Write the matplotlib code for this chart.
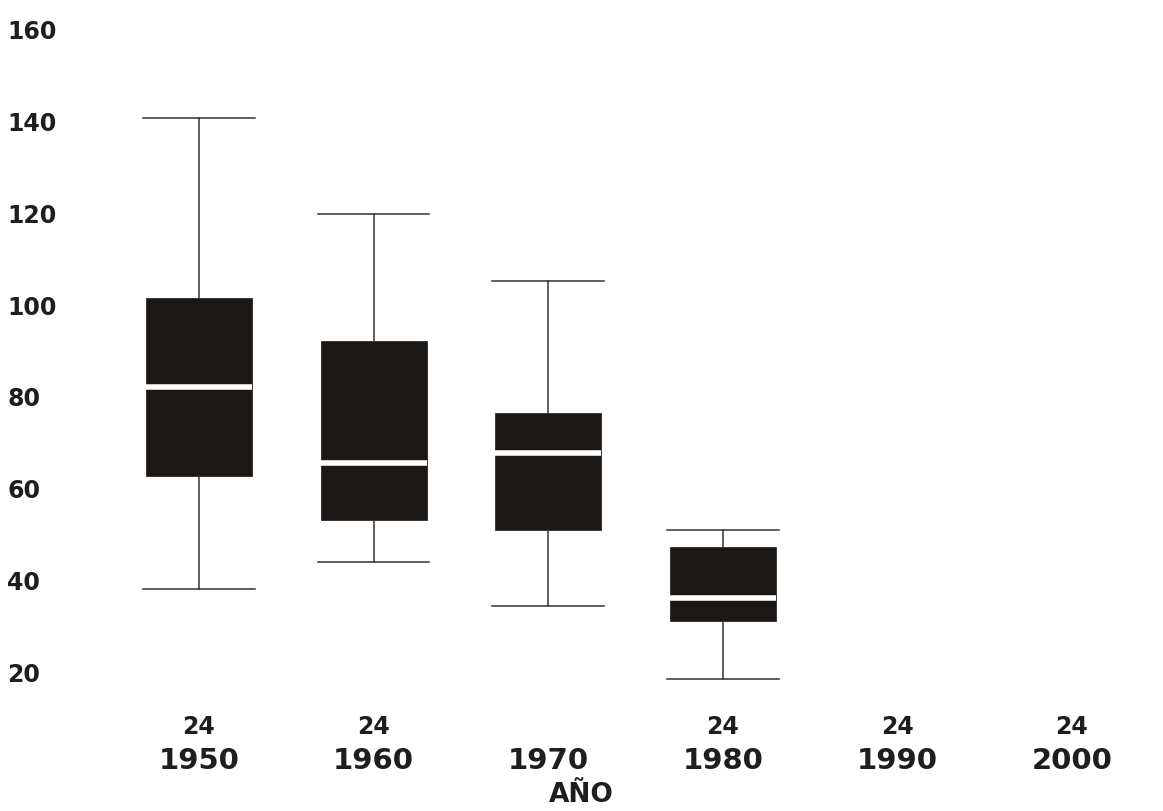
import matplotlib
matplotlib.use("Agg")
import matplotlib.pyplot as plt

# years on the x axis (1990 and 2000 have no box)
years = ["1950", "1960", "1970", "1980", "1990", "2000"]
counts = ["24", "24", "", "24", "24", "24"]

# box stats
whislo = [38.1, 44.1, 34.4, 18.5]
q1 = [62.8, 53.2, 51.0, 31.2]
med = [82.1, 65.5, 67.7, 36.2]
q3 = [101.6, 92.2, 76.4, 47.4]
whishi = [140.8, 119.9, 105.3, 51.0]

yticks = [20, 40, 60, 80, 100, 120, 140, 160]

stats = []
for i in range(len(med)):
    stats.append(dict(whislo=whislo[i], q1=q1[i], med=med[i], q3=q3[i],
                      whishi=whishi[i], fliers=[]))

fig = plt.figure(figsize=(11.63, 8.11), dpi=100)
ax = fig.add_axes([0.096, 0.1428, 0.9008, 0.8486])

box_col = "#1b1715"
line_col = "#333333"
txt_col = "#1e1e1e"

ax.bxp(stats, positions=range(1, len(med) + 1), widths=0.607, capwidths=0.64,
       patch_artist=True, showfliers=False,
       boxprops=dict(facecolor=box_col, edgecolor=box_col, linewidth=0.5),
       whiskerprops=dict(color=line_col, linewidth=1.1),
       capprops=dict(color=line_col, linewidth=1.1),
       medianprops=dict(color="white", linewidth=4.0, solid_capstyle="butt"))

ax.set_xlim(0.5, 6.5)
ax.set_ylim(15, 165)
for s in ax.spines.values():
    s.set_visible(False)

ax.set_yticks(yticks)
ax.set_yticklabels([str(v) for v in yticks], ha="left", fontsize=17,
                   fontweight="bold", color=txt_col)
ax.tick_params(axis="y", length=0, pad=75)
ax.set_xticks([])

tr = ax.get_xaxis_transform()
for i, (yr, n) in enumerate(zip(years, counts)):
    pos = i + 1
    ax.text(pos, -0.095, yr, transform=tr, ha="center", va="center",
            fontsize=21, fontweight="bold", color=txt_col, clip_on=False)
    if n:
        ax.text(pos, -0.0465, n, transform=tr, ha="center", va="center",
                fontsize=17, fontweight="bold", color=txt_col, clip_on=False)

fig.text(0.4996, 0.004, "AÑO", ha="center", va="bottom", fontsize=19,
         fontweight="bold", color=txt_col)

fig.savefig("out.png", dpi=100)
